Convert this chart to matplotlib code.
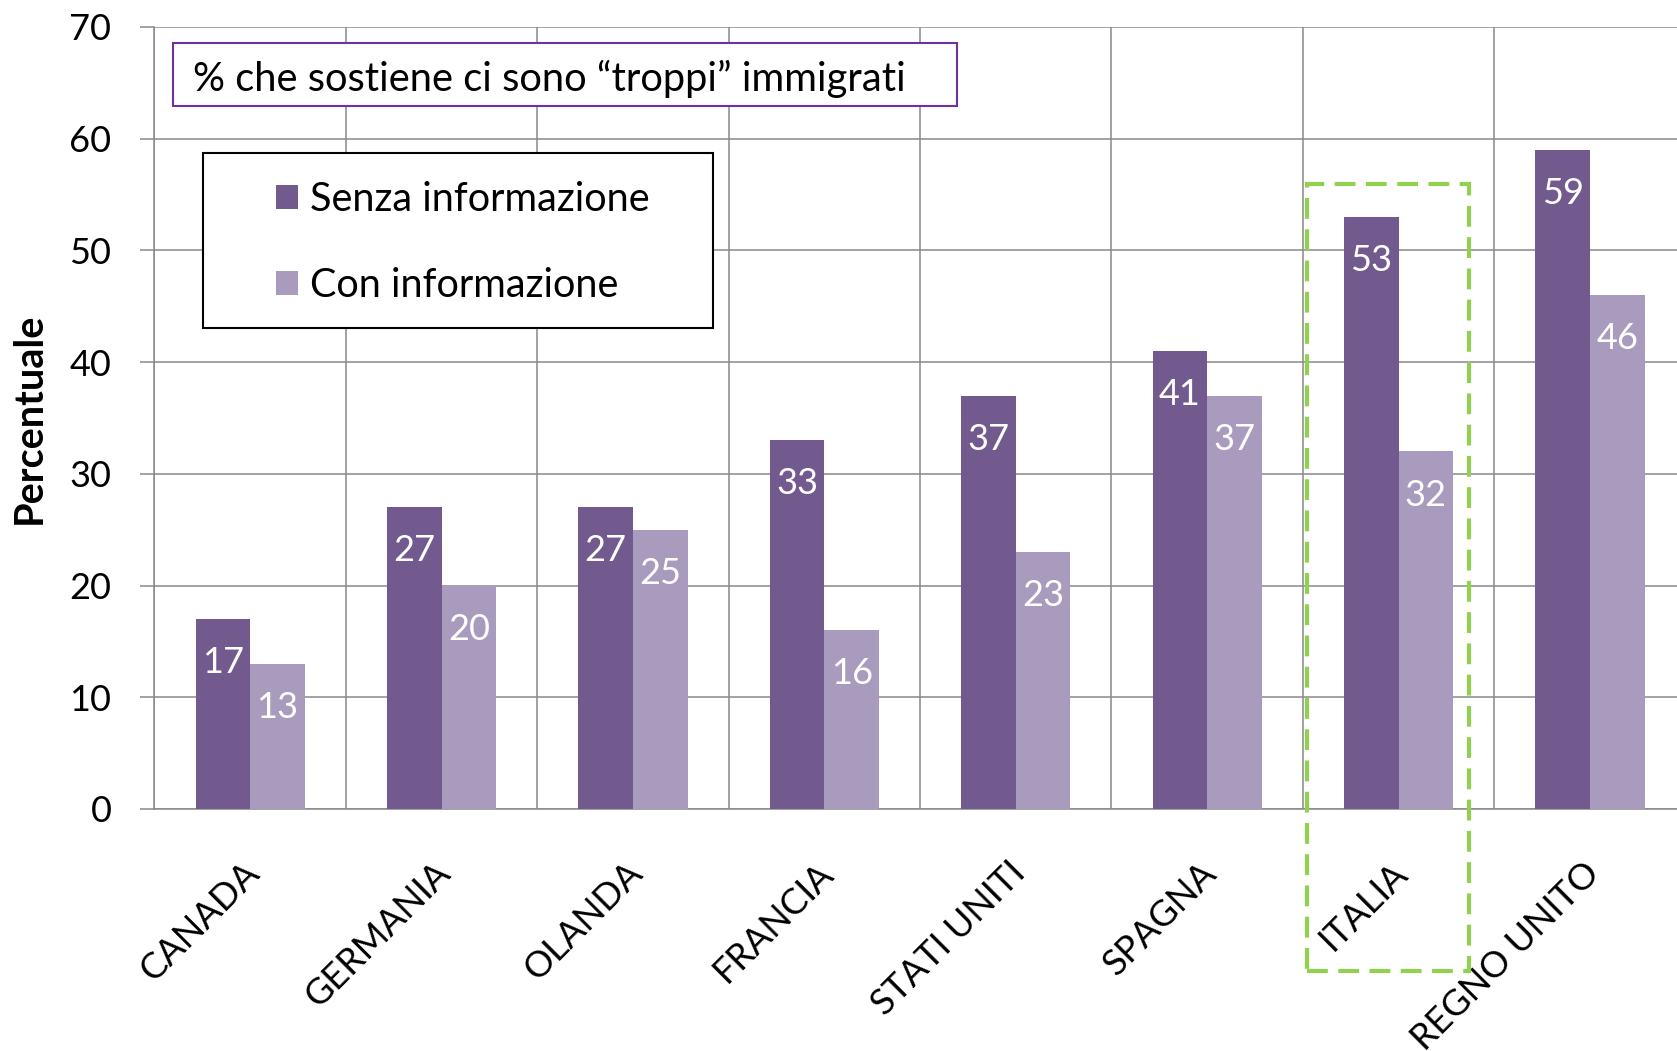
import matplotlib
matplotlib.use('Agg')
import numpy as np
import matplotlib.pyplot as plt
from matplotlib.patches import Rectangle
from matplotlib.transforms import ScaledTranslation

# dati
paesi = ['CANADA', 'GERMANIA', 'OLANDA', 'FRANCIA', 'STATI UNITI', 'SPAGNA', 'ITALIA', 'REGNO UNITO']
senza_info = [17, 27, 27, 33, 37, 41, 53, 59]
con_info = [13, 20, 25, 16, 23, 37, 32, 46]
yticks = [0, 10, 20, 30, 40, 50, 60, 70]
titolo = '% che sostiene ci sono \u201ctroppi\u201d immigrati'

plt.rcParams['font.family'] = ['Lato', 'DejaVu Sans']

scuro = '#725A8E'
chiaro = '#A99BBE'
grigio = '#898989'

fig = plt.figure(figsize=(16.77, 10.51), dpi=100)
ax = fig.add_axes([0.0921, 0.2303, 0.9131, 0.7441])

x = np.arange(len(paesi))
w = 0.285
b1 = ax.bar(x - w/2, senza_info, w, color=scuro, label='Senza informazione', zorder=3)
b2 = ax.bar(x + w/2, con_info, w, color=chiaro, label='Con informazione', zorder=3)

# etichette dentro le barre
for bars, vals in ((b1, senza_info), (b2, con_info)):
    for r, v in zip(bars, vals):
        ax.annotate(str(v), (r.get_x() + r.get_width()/2, v), xytext=(0, -39),
                    textcoords='offset points', ha='center', va='baseline',
                    color='white', fontsize=26, zorder=4)

ax.set_xlim(-0.5, 7.5)
ax.set_ylim(0, 70)
ax.set_yticks(yticks)
ax.tick_params(axis='y', labelsize=26, length=10, width=1.1, color=grigio, pad=21)
ax.set_xticks(x, paesi, rotation=45, ha='right', rotation_mode='anchor', fontsize=26)
ax.set_xticks(np.arange(-0.5, 8, 1), minor=True)
ax.tick_params(axis='x', which='both', length=0, pad=34)
off = ScaledTranslation(-8/100, 0, fig.dpi_scale_trans)
for lab in ax.get_xticklabels():
    lab.set_transform(lab.get_transform() + off)

ax.grid(axis='y', which='major', color=grigio, lw=1.1, zorder=0)
ax.grid(axis='x', which='minor', color=grigio, lw=1.1, zorder=0)
for s in ['top', 'right']:
    ax.spines[s].set_visible(False)
for s in ['left', 'bottom']:
    ax.spines[s].set_color(grigio)
    ax.spines[s].set_linewidth(1.1)

fig.text(29/1677, 1 - 418/1051, 'Percentuale', rotation=90, ha='center', va='center',
         fontsize=28.5, fontweight='bold')

# riquadro titolo
ax.add_patch(Rectangle((0.0121, 0.899), 0.512, 0.0805, transform=ax.transAxes,
                       facecolor='white', edgecolor='#7030A0', lw=1.5, zorder=5))
ax.text(0.0251, 0.9333, titolo, transform=ax.transAxes, ha='left', va='center',
        fontsize=28.7, zorder=6)

# legenda
ax.add_patch(Rectangle((0.0317, 0.6151), 0.333, 0.2238, transform=ax.transAxes,
                       facecolor='white', edgecolor='black', lw=1.5, zorder=5))
leg = ax.legend(handles=[b1, b2], frameon=False, loc='upper left',
                bbox_to_anchor=(0.0793, 0.8031), borderaxespad=0, borderpad=0,
                fontsize=28.5, handlelength=0.56, handleheight=0.56,
                handletextpad=0.3, labelspacing=1.25)
leg.set_zorder(6)

# riquadro tratteggiato verde su ITALIA
ax.add_patch(Rectangle((5.52, -14.5), 0.85, 70.4, facecolor='none', edgecolor='#92D050',
                       lw=3, linestyle=(0, (5, 2.5)), clip_on=False, zorder=5))

fig.savefig('out.png', dpi=100)
